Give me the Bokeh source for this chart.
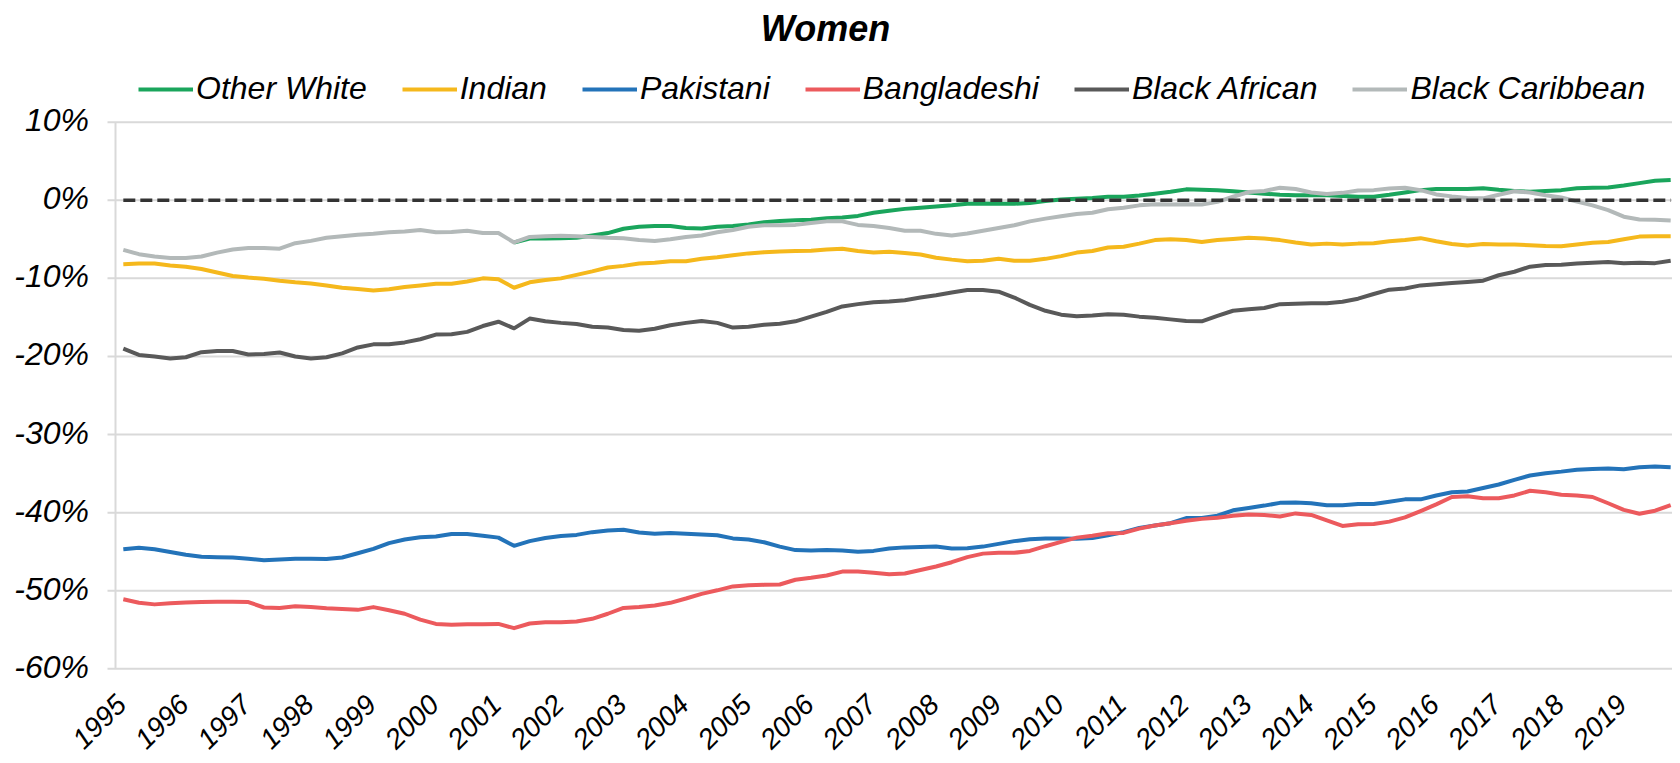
import math
import numpy as np
from bokeh.plotting import figure
from bokeh.models import Range1d, Legend, LegendItem, Label
from bokeh.core.properties import value
from bokeh.embed import file_html
from bokeh.resources import INLINE

# ---------------- data ----------------
years = list(range(1995, 2020))
year_labels = [str(y) for y in years]
quarters = [y + q / 4 for y in years for q in range(4)]   # 1995Q1 .. 2019Q4
y_ticks = [-60, -50, -40, -30, -20, -10, 0, 10]
y_tick_labels = [f"{t}%" for t in y_ticks]
title_text = "Women"

series_names = ["Other White", "Indian", "Pakistani", "Bangladeshi", "Black African", "Black Caribbean"]
series_colors = ["#1AA55C", "#F5B81C", "#2373B9", "#EC5A5D", "#595959", "#B3B9B9"]

other_white = [None] * 25 + [
    -5.4, -4.9, -4.9, -4.85, -4.8, -4.5, -4.2, -3.65, -3.4, -3.3, -3.3, -3.55, -3.6, -3.4, -3.3,
    -3.1, -2.8, -2.65, -2.55, -2.5, -2.3, -2.2, -2.0, -1.6, -1.35, -1.1, -0.95, -0.8, -0.65, -0.45,
    -0.4, -0.45, -0.45, -0.35, -0.1, 0.1, 0.2, 0.3, 0.45, 0.45, 0.6, 0.85, 1.1, 1.4, 1.35,
    1.3, 1.15, 1.0, 0.85, 0.7, 0.65, 0.65, 0.65, 0.55, 0.45, 0.45, 0.7, 1.0, 1.3, 1.45,
    1.45, 1.45, 1.55, 1.35, 1.2, 1.1, 1.2, 1.3, 1.55, 1.6, 1.65, 1.9, 2.2, 2.5, 2.6]

indian = [
    -8.2, -8.1, -8.1, -8.35, -8.5, -8.8, -9.25, -9.7, -9.9, -10.05,
    -10.3, -10.5, -10.65, -10.9, -11.2, -11.35, -11.55, -11.4, -11.1, -10.9,
    -10.7, -10.7, -10.4, -10.0, -10.1, -11.2, -10.5, -10.2, -10.0, -9.55,
    -9.1, -8.6, -8.4, -8.1, -8.0, -7.8, -7.8, -7.5, -7.3, -7.05,
    -6.8, -6.65, -6.55, -6.5, -6.45, -6.3, -6.2, -6.5, -6.7, -6.6,
    -6.75, -6.95, -7.35, -7.6, -7.8, -7.75, -7.5, -7.75, -7.75, -7.5,
    -7.15, -6.7, -6.5, -6.05, -5.95, -5.55, -5.1, -5.0, -5.1, -5.35,
    -5.1, -4.95, -4.8, -4.9, -5.1, -5.4, -5.65, -5.55, -5.65, -5.55,
    -5.5, -5.25, -5.1, -4.85, -5.25, -5.6, -5.8, -5.6, -5.65, -5.65,
    -5.75, -5.85, -5.9, -5.65, -5.45, -5.35, -5.0, -4.65, -4.6, -4.6]

pakistani = [
    -44.7, -44.5, -44.7, -45.05, -45.4, -45.65, -45.7, -45.75, -45.9, -46.1,
    -46.0, -45.9, -45.9, -45.95, -45.75, -45.2, -44.65, -43.9, -43.45, -43.15,
    -43.05, -42.75, -42.75, -42.95, -43.2, -44.25, -43.65, -43.25, -43.0, -42.85,
    -42.5, -42.3, -42.2, -42.55, -42.7, -42.6, -42.7, -42.8, -42.9, -43.3,
    -43.45, -43.8, -44.35, -44.8, -44.85, -44.8, -44.85, -45.0, -44.9, -44.6,
    -44.45, -44.4, -44.35, -44.6, -44.55, -44.35, -44.0, -43.65, -43.4, -43.3,
    -43.3, -43.35, -43.25, -42.9, -42.5, -41.95, -41.65, -41.35, -40.7, -40.7,
    -40.4, -39.7, -39.4, -39.1, -38.75, -38.7, -38.8, -39.05, -39.05, -38.9,
    -38.9, -38.6, -38.3, -38.3, -37.8, -37.4, -37.3, -36.85, -36.4, -35.8,
    -35.25, -34.95, -34.75, -34.5, -34.4, -34.35, -34.45, -34.2, -34.1, -34.2]

bangladeshi = [
    -51.1, -51.55, -51.75, -51.6, -51.5, -51.45, -51.4, -51.4, -51.45, -52.15,
    -52.2, -52.0, -52.1, -52.25, -52.35, -52.45, -52.1, -52.5, -52.95, -53.7,
    -54.25, -54.35, -54.3, -54.3, -54.25, -54.8, -54.2, -54.05, -54.05, -53.95,
    -53.6, -52.95, -52.2, -52.1, -51.9, -51.55, -51.0, -50.4, -49.95, -49.45,
    -49.3, -49.25, -49.2, -48.6, -48.35, -48.05, -47.55, -47.55, -47.7, -47.9,
    -47.8, -47.35, -46.9, -46.35, -45.7, -45.25, -45.15, -45.15, -44.9, -44.3,
    -43.75, -43.2, -42.95, -42.65, -42.6, -42.05, -41.65, -41.35, -41.05, -40.8,
    -40.65, -40.4, -40.25, -40.3, -40.5, -40.1, -40.3, -41.0, -41.7, -41.5,
    -41.45, -41.15, -40.6, -39.8, -38.95, -38.0, -37.9, -38.15, -38.15, -37.8,
    -37.2, -37.4, -37.7, -37.8, -38.0, -38.8, -39.65, -40.15, -39.75, -39.05]

black_african = [
    -19.0, -19.8, -20.0, -20.25, -20.1, -19.45, -19.3, -19.3, -19.75, -19.7,
    -19.5, -20.0, -20.25, -20.1, -19.6, -18.85, -18.45, -18.45, -18.2, -17.8,
    -17.2, -17.15, -16.85, -16.1, -15.55, -16.4, -15.15, -15.5, -15.7, -15.85,
    -16.2, -16.3, -16.6, -16.7, -16.45, -16.0, -15.7, -15.45, -15.7, -16.3,
    -16.2, -15.95, -15.8, -15.5, -14.9, -14.3, -13.6, -13.3, -13.05, -12.95,
    -12.8, -12.45, -12.15, -11.8, -11.5, -11.5, -11.7, -12.45, -13.4, -14.15,
    -14.65, -14.85, -14.75, -14.6, -14.65, -14.9, -15.05, -15.25, -15.45, -15.5,
    -14.8, -14.15, -13.95, -13.8, -13.3, -13.25, -13.2, -13.2, -13.0, -12.6,
    -12.0, -11.45, -11.3, -10.9, -10.75, -10.6, -10.45, -10.3, -9.6, -9.15,
    -8.5, -8.3, -8.25, -8.1, -8.0, -7.9, -8.05, -8.0, -8.05, -7.75]

black_caribbean = [
    -6.35, -6.9, -7.2, -7.4, -7.4, -7.2, -6.7, -6.3, -6.1, -6.1,
    -6.2, -5.5, -5.2, -4.8, -4.6, -4.4, -4.3, -4.1, -4.0, -3.8,
    -4.1, -4.05, -3.9, -4.2, -4.2, -5.4, -4.7, -4.6, -4.55, -4.6,
    -4.7, -4.8, -4.85, -5.1, -5.2, -5.0, -4.7, -4.5, -4.1, -3.8,
    -3.4, -3.2, -3.2, -3.15, -2.9, -2.7, -2.7, -3.15, -3.3, -3.55,
    -3.9, -3.9, -4.3, -4.5, -4.25, -3.9, -3.55, -3.2, -2.7, -2.35,
    -2.05, -1.75, -1.6, -1.15, -0.95, -0.65, -0.5, -0.55, -0.5, -0.55,
    -0.2, 0.45, 1.05, 1.2, 1.6, 1.45, 1.0, 0.8, 0.95, 1.25,
    1.3, 1.5, 1.6, 1.3, 0.75, 0.5, 0.3, 0.25, 0.7, 1.15,
    1.0, 0.65, 0.35, -0.15, -0.65, -1.25, -2.1, -2.45, -2.5, -2.6]

reference_level = 0.0

series_values = [other_white, indian, pakistani, bangladeshi, black_african, black_caribbean]

# ---------------- layout (pixels) ----------------
W, H = 1672, 755
AXIS_X = 115                      # pixel column of the y axis line
QUARTER_PX = 15.63                # width of one quarter
GRID_TOP, GRID_BOTTOM = 121.7, 668.3   # pixel rows of the 10% and -60% gridlines
TICK_OUT = 8

px_per_year = 4 * QUARTER_PX
x_start = quarters[0] - 0.125
x_end = quarters[-1] + 0.125
x_left = x_start - AXIS_X / px_per_year
px_per_pct = (GRID_BOTTOM - GRID_TOP) / (y_ticks[-1] - y_ticks[0])
y_top = y_ticks[-1] + GRID_TOP / px_per_pct
y_bot = y_top - H / px_per_pct

FONT = "Liberation Sans"
GRID_COLOR = "#D9D9D9"

p = figure(width=W, height=H, output_backend="svg", toolbar_location=None,
           x_range=Range1d(x_left, x_left + W / px_per_year),
           y_range=Range1d(y_bot, y_top),
           x_axis_location=None, y_axis_location=None,
           min_border_left=0, min_border_right=0, min_border_top=0, min_border_bottom=0)
p.outline_line_color = None
p.background_fill_color = "white"
p.border_fill_color = "white"
p.grid.visible = False

# horizontal gridlines (with a short outward tick left of the axis)
n = len(y_ticks)
p.segment(x0=[x_start - TICK_OUT / px_per_year] * n, y0=y_ticks, x1=[x_end] * n, y1=y_ticks,
          line_color=GRID_COLOR, line_width=2)
# y axis line
p.segment(x0=[x_start], y0=[y_ticks[0]], x1=[x_start], y1=[y_ticks[-1]],
          line_color=GRID_COLOR, line_width=2)

# y tick labels
p.text(x=[x_start] * n, y=y_ticks, text=y_tick_labels,
       text_align="right", text_baseline="middle", x_offset=-26.5, y_offset=-2,
       text_font=value(FONT), text_font_style="italic", text_font_size="32px",
       text_color="#000000")

# x tick labels (rotated years under the bottom gridline)
p.text(x=years, y=[y_ticks[0]] * len(years), text=year_labels,
       angle=math.pi / 4, text_align="right", text_baseline="middle",
       x_offset=-2, y_offset=31,
       text_font=value(FONT), text_font_style="italic", text_font_size="28px",
       text_color="#000000")

# series lines
items = []
for name, vals, col in zip(series_names, series_values, series_colors):
    r = p.line(quarters, np.array(vals, dtype=float), line_width=4, line_color=col,
               line_join="round")
    items.append(LegendItem(label=name, renderers=[r]))

# zero reference line (dashed, on top)
p.line(quarters, [reference_level] * len(quarters), line_width=3.5, line_color="#333333",
       line_dash="12 5")

legend = Legend(items=items, orientation="horizontal", location=(138, H - 107),
                glyph_width=55, glyph_height=36, label_height=36, label_standoff=3,
                spacing=35, padding=0, margin=0, border_line_color=None,
                background_fill_alpha=0,
                label_text_font=FONT, label_text_font_style="italic",
                label_text_font_size="32px", label_text_color="#000000")
p.add_layout(legend)

title = Label(x=825, y=H - 28, x_units="screen", y_units="screen",
              text=title_text, text_align="center", text_baseline="alphabetic",
              text_font=FONT, text_font_style="bold italic", text_font_size="36px",
              text_color="#000000")
p.add_layout(title)

open("out.html", "w").write(file_html(p, INLINE))
